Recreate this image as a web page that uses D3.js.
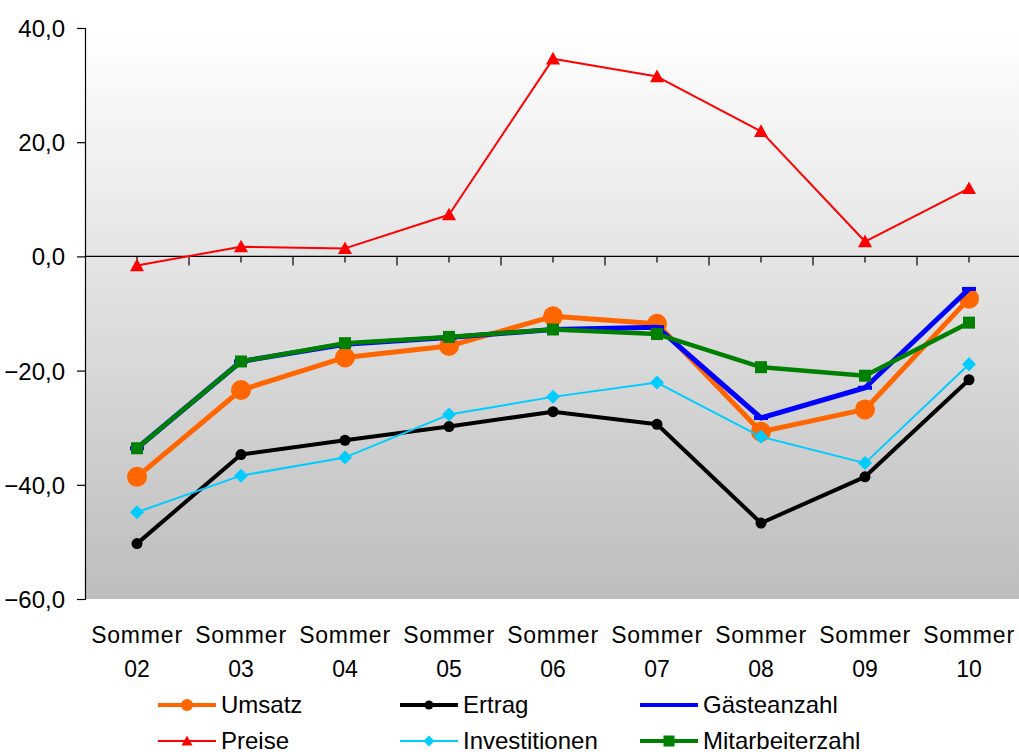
<!DOCTYPE html>
<html>
<head>
<meta charset="utf-8">
<script src="https://cdn.jsdelivr.net/npm/d3@7"></script>
<style>
  body { margin: 0; background: #fff; }
  text { font-family: 'Liberation Sans', Arial, sans-serif; fill: #000; }
</style>
</head>
<body>
<div id="chart"></div>
<script>
const categories = ['02', '03', '04', '05', '06', '07', '08', '09', '10'];
const yTicks = [40, 20, 0, -20, -40, -60];

const umsatz = [-38.6, -23.4, -17.7, -15.7, -10.5, -11.8, -30.7, -26.8, -7.4];
const ertrag = [-50.3, -34.7, -32.2, -29.8, -27.2, -29.4, -46.7, -38.6, -21.6];
const gaeste = [-33.6, -18.4, -15.4, -14.2, -12.8, -12.4, -28.3, -23.0, -5.7];
const preise = [-1.6, 1.7, 1.4, 7.3, 34.6, 31.5, 21.9, 2.6, 11.9];
const invest = [-44.8, -38.4, -35.2, -27.7, -24.6, -22.1, -31.6, -36.2, -18.9];
const mitarbeiter = [-33.6, -18.4, -15.2, -14.1, -12.8, -13.6, -19.4, -20.9, -11.6];

const series = [
  { name: 'Umsatz', values: umsatz, color: '#ff6600', width: 5, marker: 'circle', size: 10 },
  { name: 'Ertrag', values: ertrag, color: '#000000', width: 4, marker: 'circle', size: 5.5 },
  { name: 'Gästeanzahl', values: gaeste, color: '#0000ff', width: 5, marker: 'dash', size: 7 },
  { name: 'Preise', values: preise, color: '#ff0000', width: 2, marker: 'triangle', size: 7 },
  { name: 'Investitionen', values: invest, color: '#00ccff', width: 2, marker: 'diamond', size: 7 },
  { name: 'Mitarbeiterzahl', values: mitarbeiter, color: '#008000', width: 4.5, marker: 'square', size: 6 }
];

const width = 1019,
  height = 756,
  plot = { left: 85, top: 28, bottom: 599, step: 104 };

const svg = d3.select('div#chart').append('svg')
  .attr('width', width)
  .attr('height', height);

const defs = svg.append('defs');
const grad = defs.append('linearGradient')
  .attr('id', 'bg')
  .attr('x1', 0).attr('y1', 0).attr('x2', 0).attr('y2', 1);
grad.append('stop').attr('offset', '0%').attr('stop-color', '#ffffff');
grad.append('stop').attr('offset', '100%').attr('stop-color', '#bdbdbd');

const x = d3.scaleBand()
  .domain(categories)
  .range([plot.left, plot.left + categories.length * plot.step]);

const y = d3.scaleLinear()
  .domain([-60, 40])
  .range([plot.bottom, plot.top]);

const cx = d => x(d) + x.bandwidth() / 2;

// plot background
svg.append('rect')
  .attr('x', plot.left)
  .attr('y', plot.top)
  .attr('width', x.range()[1] - plot.left)
  .attr('height', plot.bottom - plot.top)
  .attr('fill', 'url(#bg)');

// y axis
const yAxis = svg.append('g')
  .attr('transform', 'translate(' + plot.left + ',0)')
  .call(d3.axisLeft(y).tickValues(yTicks).tickSize(8).tickPadding(12)
    .tickFormat(d => d3.format('.1f')(d).replace('.', ',')));
yAxis.select('.domain').attr('stroke', '#000').attr('stroke-width', 1.2);
yAxis.selectAll('.tick line').attr('stroke', '#000').attr('stroke-width', 1.2);
yAxis.selectAll('.tick text')
  .style('font-size', '24px')
  .attr('dy', '0.35em');

// zero line with category ticks (boundaries and centers)
const zero = svg.append('g');
zero.append('line')
  .attr('x1', plot.left).attr('x2', x.range()[1])
  .attr('y1', y(0)).attr('y2', y(0))
  .attr('stroke', '#000').attr('stroke-width', 1.2);

const tickPos = [];
categories.forEach(c => {
  tickPos.push({ x: x(c) + plot.step, len: 9 });
  tickPos.push({ x: cx(c), len: 6 });
});
zero.selectAll('line.t')
  .data(tickPos)
  .join('line')
  .attr('class', 't')
  .attr('x1', d => d.x).attr('x2', d => d.x)
  .attr('y1', y(0)).attr('y2', d => y(0) + d.len)
  .attr('stroke', '#000').attr('stroke-width', 1.2);

// x labels
const xl = svg.append('g');
categories.forEach(c => {
  xl.append('text')
    .attr('x', cx(c)).attr('y', 643)
    .attr('text-anchor', 'middle')
    .style('font-size', '23px')
    .style('letter-spacing', '0.8px')
    .text('Sommer');
  xl.append('text')
    .attr('x', cx(c)).attr('y', 677)
    .attr('text-anchor', 'middle')
    .style('font-size', '23px')
    .text(c);
});

const drawMarker = (g, s, px, py, size) => {
  if (s.marker === 'circle') {
    g.append('circle').attr('cx', px).attr('cy', py).attr('r', size).attr('fill', s.color);
  } else if (s.marker === 'square') {
    g.append('rect').attr('x', px - size).attr('y', py - size)
      .attr('width', size * 2).attr('height', size * 2).attr('fill', s.color);
  } else if (s.marker === 'diamond') {
    g.append('path')
      .attr('d', 'M' + px + ',' + (py - size) + 'L' + (px + size) + ',' + py + 'L' + px + ',' + (py + size) + 'L' + (px - size) + ',' + py + 'Z')
      .attr('fill', s.color);
  } else if (s.marker === 'triangle') {
    g.append('path')
      .attr('d', 'M' + px + ',' + (py - size) + 'L' + (px + size) + ',' + (py + size * 0.8) + 'L' + (px - size) + ',' + (py + size * 0.8) + 'Z')
      .attr('fill', s.color);
  } else if (s.marker === 'dash') {
    g.append('rect').attr('x', px - size).attr('y', py - 2)
      .attr('width', size * 2).attr('height', 4).attr('fill', s.color);
  }
};

const line = d3.line()
  .x((d, i) => cx(categories[i]))
  .y(d => y(d));

series.forEach(s => {
  const g = svg.append('g');
  g.append('path')
    .datum(s.values)
    .attr('d', line)
    .attr('fill', 'none')
    .attr('stroke', s.color)
    .attr('stroke-width', s.width)
    .attr('stroke-linejoin', 'round');
  s.values.forEach((v, i) => drawMarker(g, s, cx(categories[i]), y(v), s.size));
});

// legend, two rows of three
const legendCols = [158, 400, 640],
  legendRows = [705, 741];
series.forEach((s, i) => {
  const lx = legendCols[i % 3],
    ly = legendRows[Math.floor(i / 3)];
  const g = svg.append('g');
  g.append('line')
    .attr('x1', lx).attr('x2', lx + 58)
    .attr('y1', ly).attr('y2', ly)
    .attr('stroke', s.color)
    .attr('stroke-width', Math.min(s.width, 4));
  drawMarker(g, s, lx + 29, ly, s.marker === 'circle' ? (s.size > 6 ? 6 : 4.5) : 5.5);
  g.append('text')
    .attr('x', lx + 63).attr('y', ly + 8)
    .style('font-size', '24px')
    .text(s.name);
});
</script>
</body>
</html>
